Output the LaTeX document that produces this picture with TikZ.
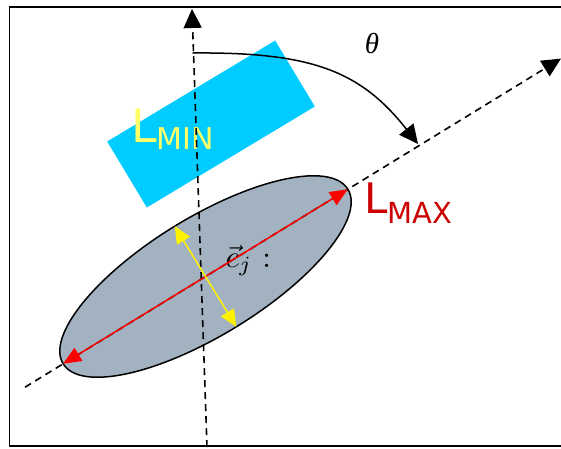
\documentclass[tikz,border=0pt]{standalone}
\usepackage{fontspec}
\newfontfamily\vsans{DejaVu Sans}
\newfontfamily\tms{Liberation Serif}
\usetikzlibrary{arrows.meta,shapes.geometric,calc}
\definecolor{boxcyan}{HTML}{00CCFF}
\definecolor{ellfill}{HTML}{A3B2C1}
\definecolor{lminyellow}{HTML}{FFFF66}
\definecolor{lmaxred}{HTML}{CC0000}
\tikzset{
  axis/.style={line width=1.6pt, dash pattern=on 7pt off 5pt, -{Triangle[length=19pt,width=18pt]}},
  bigarrow/.style={line width=1.5pt, -{Triangle[length=19pt,width=18pt]}},
  redarrow/.style={draw=red, line width=1.5pt, {Triangle[length=18pt,width=15pt]}-{Triangle[length=18pt,width=15pt]}},
  yelarrow/.style={draw=yellow, line width=1.5pt, {Triangle[length=17pt,width=15pt]}-{Triangle[length=17pt,width=15pt]}},
  lbl/.style={inner sep=0pt, outer sep=0pt, anchor=base west, font=\vsans}
}
\begin{document}
\begin{tikzpicture}[x=1pt,y=-1pt]
\useasboundingbox (0,0) rectangle (561,448);
% frame
\draw[line width=1.8pt] (9.5,7) rectangle (570,446);
% cyan rectangle
\node[rectangle, fill=boxcyan, minimum width=196pt, minimum height=77pt, inner sep=0pt, outer sep=0pt, rotate=31] (box) at (211,124) {};
% ellipse
\node[ellipse, draw, line width=1.5pt, fill=ellfill, minimum width=334pt, minimum height=118pt, inner sep=0pt, outer sep=0pt, rotate=31.5] (E) at (205.5,276.5) {};
% labels
\node[lbl, text=lminyellow] (lmin) at (131,142) {\fontsize{46}{46}\selectfont L\fontsize{30}{30}\selectfont\raisebox{-7pt}{MIN}};
\node[lbl, text=lmaxred] (lmax) at (364,213) {\fontsize{42}{42}\selectfont L\fontsize{29}{29}\selectfont\raisebox{-10pt}{MAX}};
\node[inner sep=0pt] (theta) at (372,43) {\tms\itshape\fontsize{29}{29}\selectfont θ};
\node[inner sep=0pt, anchor=base west, scale=3.1] (cj) at (225,267) {$\vec{c}_j$ :};
% axes
\coordinate (vb) at (207,447);
\coordinate (vt) at (192,9);
\coordinate (db) at ($(E.center)+(-180.5,110.7)$);
\coordinate (dt) at ($(E.center)+(355.5,-217.9)$);
\draw[axis] (vb) -- (vt);
\draw[axis] (db) -- (dt);
% red and yellow axes of ellipse
\draw[redarrow] (E.west) -- (E.east);
\draw[yelarrow] (E.north) -- (E.south);
% rotation arrow
\coordinate (cs) at (192.5,53);
\coordinate (ce) at (418,144);
\draw[bigarrow] (cs) .. controls (310,52) and (360,70) .. (ce);
\end{tikzpicture}
\end{document}
